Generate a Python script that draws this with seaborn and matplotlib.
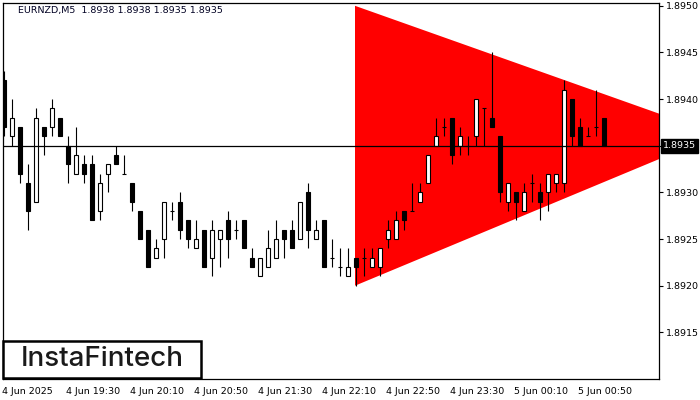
import matplotlib
matplotlib.use("Agg")
import matplotlib.pyplot as plt
import matplotlib.transforms as mtransforms
from matplotlib.patches import Rectangle, Polygon
import seaborn as sns
import pandas as pd

sns.set_theme(style="white")
plt.rcParams['font.family'] = ['DejaVu Sans']

# OHLC data (EURNZD M5), candle 0 = 4 Jun 18:50
opens = [1.8942, 1.8936, 1.8937, 1.8931, 1.8929, 1.8937, 1.8937, 1.8938, 1.8935, 1.8932,
         1.8933, 1.8933, 1.8928, 1.8932, 1.8934, 1.8932, 1.8931, 1.8928, 1.8926, 1.8923,
         1.8925, 1.8928, 1.8929, 1.8927, 1.8924, 1.8926, 1.8923, 1.8925, 1.8927, 1.8926,
         1.8927, 1.8923, 1.8921, 1.8922, 1.8923, 1.8926, 1.8926, 1.8925, 1.8930, 1.8925,
         1.8927, 1.8923, 1.8922, 1.8921, 1.8923, 1.8923, 1.8922, 1.8922, 1.8925, 1.8925,
         1.8928, 1.8928, 1.8929, 1.8931, 1.8935, 1.8937, 1.8938, 1.8935, 1.8935, 1.8936,
         1.8939, 1.8938, 1.8936, 1.8929, 1.8930, 1.8928, 1.8931, 1.8930, 1.8930, 1.8931,
         1.8931, 1.8940, 1.8937, 1.8936, 1.8937, 1.8938]
highs = [1.8943, 1.8940, 1.8937, 1.8933, 1.8939, 1.8937, 1.8940, 1.8938, 1.8936, 1.8937,
         1.8934, 1.8934, 1.8932, 1.8933, 1.8935, 1.8934, 1.8931, 1.8928, 1.8926, 1.8925,
         1.8929, 1.8929, 1.8930, 1.8927, 1.8927, 1.8926, 1.8927, 1.8926, 1.8928, 1.8927,
         1.8927, 1.8924, 1.8923, 1.8926, 1.8927, 1.8926, 1.8927, 1.8929, 1.8931, 1.8927,
         1.8927, 1.8925, 1.8924, 1.8924, 1.8923, 1.8924, 1.8924, 1.8924, 1.8927, 1.8928,
         1.8928, 1.8931, 1.8931, 1.8934, 1.8938, 1.8938, 1.8938, 1.8937, 1.8936, 1.8940,
         1.8939, 1.8945, 1.8936, 1.8931, 1.8930, 1.8931, 1.8932, 1.8931, 1.8932, 1.8932,
         1.8942, 1.8940, 1.8938, 1.8937, 1.8941, 1.8938]
lows = [1.8936, 1.8935, 1.8931, 1.8926, 1.8929, 1.8934, 1.8936, 1.8936, 1.8931, 1.8932,
        1.8931, 1.8927, 1.8927, 1.8930, 1.8933, 1.8932, 1.8928, 1.8925, 1.8922, 1.8923,
        1.8923, 1.8927, 1.8925, 1.8924, 1.8924, 1.8922, 1.8921, 1.8922, 1.8923, 1.8925,
        1.8924, 1.8922, 1.8921, 1.8922, 1.8923, 1.8923, 1.8924, 1.8925, 1.8924, 1.8925,
        1.8922, 1.8922, 1.8921, 1.8921, 1.8920, 1.8921, 1.8922, 1.8921, 1.8924, 1.8925,
        1.8926, 1.8928, 1.8929, 1.8931, 1.8935, 1.8936, 1.8933, 1.8934, 1.8934, 1.8935,
        1.8935, 1.8937, 1.8929, 1.8928, 1.8927, 1.8928, 1.8929, 1.8927, 1.8928, 1.8930,
        1.8930, 1.8935, 1.8935, 1.8936, 1.8936, 1.8935]
closes = [1.8937, 1.8938, 1.8932, 1.8928, 1.8938, 1.8936, 1.8939, 1.8936, 1.8933, 1.8934,
          1.8932, 1.8927, 1.8931, 1.8933, 1.8933, 1.8932, 1.8929, 1.8925, 1.8922, 1.8924,
          1.8929, 1.8928, 1.8926, 1.8925, 1.8925, 1.8922, 1.8926, 1.8926, 1.8925, 1.8926,
          1.8924, 1.8922, 1.8923, 1.8924, 1.8925, 1.8925, 1.8924, 1.8929, 1.8926, 1.8926,
          1.8922, 1.8923, 1.8922, 1.8922, 1.8922, 1.8923, 1.8923, 1.8924, 1.8926, 1.8927,
          1.8927, 1.8928, 1.8930, 1.8934, 1.8936, 1.8937, 1.8934, 1.8936, 1.8935, 1.8940,
          1.8939, 1.8937, 1.8930, 1.8931, 1.8929, 1.8930, 1.8931, 1.8929, 1.8932, 1.8932,
          1.8941, 1.8936, 1.8935, 1.8936, 1.8937, 1.8935]

# Triangle pattern vertices (bar index, price)
tri_x = [43.875, 43.875, 89.25]
tri_y = [1.8950, 1.8920, 1.89362]

# Current price line
last_price = 1.8935

# Axis labels
x_tick_idx = [0, 8, 16, 24, 32, 40, 48, 56, 64, 72]
x_tick_labels = ["4 Jun 2025", "4 Jun 19:30", "4 Jun 20:10", "4 Jun 20:50", "4 Jun 21:30",
                 "4 Jun 22:10", "4 Jun 22:50", "4 Jun 23:30", "5 Jun 00:10", "5 Jun 00:50"]
y_ticks = [1.8915, 1.8920, 1.8925, 1.8930, 1.8935, 1.8940, 1.8945, 1.8950]
y_tick_labels = ["1.8915", "1.8920", "1.8925", "1.8930", "", "1.8940", "1.8945", "1.8950"]
last_price_label = "1.8935"
title_text = "EURNZD,M5  1.8938 1.8938 1.8935 1.8935"
logo_text = "InstaFintech"

df = pd.DataFrame({"open": opens, "high": highs, "low": lows, "close": closes})
df["idx"] = range(len(df))

fig = plt.figure(figsize=(7, 4), dpi=100)
fig.patch.set_facecolor("white")
ax = fig.add_axes([3 / 700, 21 / 400, 656 / 700, 376 / 400])
ax.set_facecolor("white")

# triangle
ax.add_patch(Polygon(list(zip(tri_x, tri_y)), closed=True, facecolor="#ff0000",
                     edgecolor="none", zorder=1))

# wicks
for _, r in df.iterrows():
    ax.vlines(r["idx"], r["low"], r["high"], color="black", linewidth=0.8, zorder=3)

# bodies
bw = 0.62
for _, r in df.iterrows():
    o, c = r["open"], r["close"]
    i = r["idx"]
    if abs(o - c) < 1e-9:
        ax.hlines(o, i - bw / 2, i + bw / 2, color="black", linewidth=0.8, zorder=4)
    elif c > o:
        ax.add_patch(Rectangle((i - bw / 2, o), bw, c - o, facecolor="white",
                               edgecolor="black", linewidth=0.8, zorder=4))
    else:
        ax.add_patch(Rectangle((i - bw / 2, c), bw, o - c, facecolor="black",
                               edgecolor="black", linewidth=0.8, zorder=4))

# price line
sns.lineplot(x=[-1, 100], y=[last_price, last_price], color="black", linewidth=0.9,
             ax=ax, zorder=5)

ax.set_xlim(-0.125, 81.875)
ax.set_ylim(1.89100, 1.89503)

ax.yaxis.tick_right()
ax.set_yticks(y_ticks)
ax.set_yticklabels(y_tick_labels, fontsize=6.8, color="black")
ax.set_xticks(x_tick_idx)
ax.set_xticklabels(x_tick_labels, fontsize=6.8, color="black", ha="left")
ax.tick_params(axis="both", direction="out", length=3, width=0.8, colors="black",
               pad=2, labelcolor="black")
ax.tick_params(axis="x", pad=3)
for lab in ax.get_xticklabels():
    lab.set_transform(lab.get_transform() + mtransforms.ScaledTranslation(-2 / 100, 0, fig.dpi_scale_trans))
for sp in ax.spines.values():
    sp.set_color("black")
    sp.set_linewidth(0.9)
ax.set_xlabel("")
ax.set_ylabel("")

# last price label
trans = mtransforms.blended_transform_factory(ax.transAxes, ax.transData)
ax.text(1.006, last_price, last_price_label, transform=trans, fontsize=6.8, color="white",
        va="center", ha="left", zorder=10,
        bbox=dict(boxstyle="square,pad=0.25", facecolor="black", edgecolor="black"))

# title
fig.text(18 / 700, 1 - 11 / 400, title_text, fontsize=6.8, color="#000022",
         va="center", ha="left")

# logo
fig.patches.append(Rectangle((3 / 700, 22 / 400), 198 / 700, 37 / 400,
                             transform=fig.transFigure, facecolor="white",
                             edgecolor="black", linewidth=1.8, zorder=20))
fig.text(102 / 700, 1 - 359 / 400, logo_text, fontsize=20, color="#1a1a1a",
         family=["Inter", "DejaVu Sans"], fontweight="medium",
         va="center", ha="center", zorder=21)

fig.savefig("out.png", dpi=100, facecolor="white")
